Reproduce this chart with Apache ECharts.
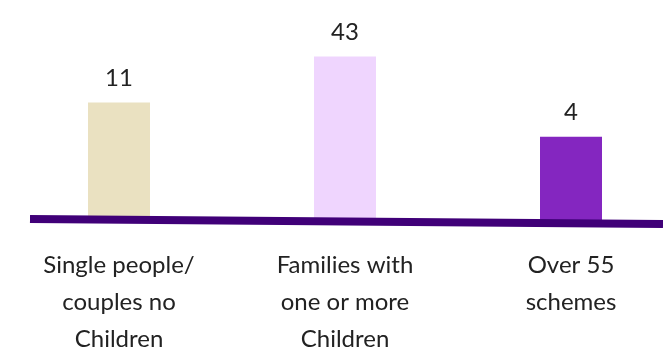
<!DOCTYPE html>
<html>
<head>
<meta charset="utf-8">
<script src="https://cdn.jsdelivr.net/npm/echarts@6/dist/echarts.min.js"></script>
<style>
  html, body { margin: 0; padding: 0; background: #fff; }
  #chart { width: 663px; height: 352px; }
</style>
</head>
<body>
<div id="chart"></div>
<script>
// Household types and counts
const categories = [
  'Single people/\ncouples no\nChildren',
  'Families with\none or more\nChildren',
  'Over 55\nschemes'
];
const counts = [11, 43, 4];
const barColors = ['#EAE1C1', '#EFD5FE', '#8426C0'];

const chart = echarts.init(document.getElementById('chart'), null, { renderer: 'canvas' });

const textFont = 'Lato, "Open Sans", "Noto Sans", sans-serif';

chart.setOption({
  animation: false,
  backgroundColor: '#ffffff',
  grid: {
    left: 6, width: 678, top: 28, bottom: 130,
    containLabel: false,
    outerBoundsMode: 'none'
  },
  xAxis: {
    type: 'category',
    data: categories,
    boundaryGap: true,
    axisLine: { show: false },
    axisTick: { show: false },
    axisLabel: {
      margin: 25,
      color: '#222222',
      fontFamily: textFont,
      fontSize: 24,
      lineHeight: 37,
      interval: 0,
      hideOverlap: false
    }
  },
  yAxis: {
    type: 'log',
    logBase: 10,
    min: 0.32,
    max: 100,
    startValue: 0.32,
    show: false,
    splitLine: { show: false }
  },
  series: [{
    type: 'bar',
    barWidth: 62,
    data: counts.map((v, i) => ({ value: v, itemStyle: { color: barColors[i] } })),
    label: {
      show: true,
      position: 'top',
      distance: 12,
      color: '#222222',
      fontFamily: textFont,
      fontSize: 24
    }
  }],
  graphic: [{
    type: 'line',
    z: 100,
    shape: { x1: 30, y1: 219, x2: 663, y2: 224 },
    style: { stroke: '#400078', lineWidth: 8 }
  }]
});
</script>
</body>
</html>
